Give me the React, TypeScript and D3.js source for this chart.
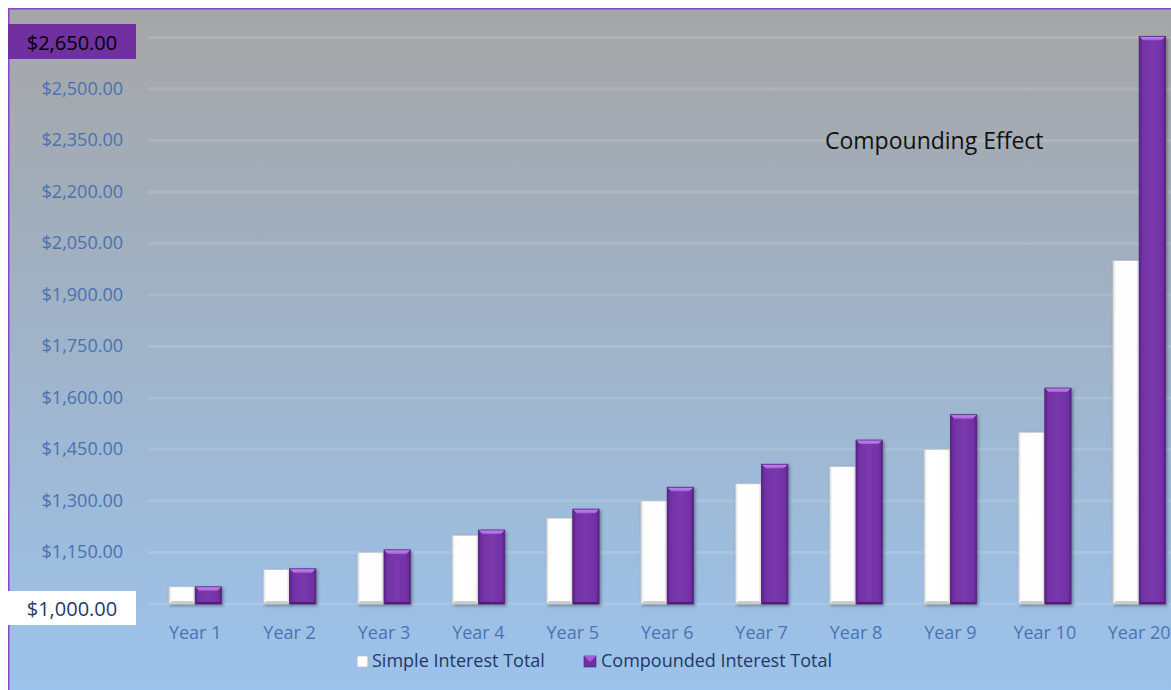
import React from "react";
import * as d3 from "d3";

const categories = ["Year 1", "Year 2", "Year 3", "Year 4", "Year 5", "Year 6", "Year 7", "Year 8", "Year 9", "Year 10", "Year 20"];
const simpleTotals = [1050, 1100, 1150, 1200, 1250, 1300, 1350, 1400, 1450, 1500, 2000];
const compoundTotals = [1050, 1102.5, 1157.63, 1215.51, 1276.28, 1340.1, 1407.1, 1477.46, 1551.33, 1628.89, 2653.3];
const seriesNames = ["Simple Interest Total", "Compounded Interest Total"];
const yTicks = [1000, 1150, 1300, 1450, 1600, 1750, 1900, 2050, 2200, 2350, 2500, 2650];
const chartTitle = "Compounding Effect";

const W = 1163;
const H = 682;
const FONT = "'Open Sans', 'Noto Sans', sans-serif";

export default function App() {
  const plotLeft = 140;
  const step = 94.4;
  const plotRight = plotLeft + step * categories.length;
  const y = d3.scaleLinear().domain([1000, 2650]).range([596, 29.5]);
  const x = d3.scaleBand<string>().domain(categories).range([plotLeft, plotRight]).paddingInner(0.443).paddingOuter(0.2215);
  const xs = d3.scaleBand<string>().domain(seriesNames).range([0, x.bandwidth()]).padding(0);
  const fmt = (v: number) => "$" + d3.format(",.2f")(v);
  const bw = xs.bandwidth();

  const purpleBar = (px: number, v: number, key: string) => {
    const top = y(v);
    const bot = y(1000);
    const h = bot - top;
    const b = Math.min(4, h / 3);
    return (
      <g key={key} filter="url(#shadow)">
        <rect x={px} y={top} width={bw} height={h} fill="url(#purpleBody)" />
        <polygon points={`${px},${top} ${px + bw},${top} ${px + bw - b},${top + b} ${px + b},${top + b}`} fill="url(#purpleTop)" />
        <polygon points={`${px},${bot} ${px + bw},${bot} ${px + bw - 2},${bot - 2} ${px + 2},${bot - 2}`} fill="#4e1c78" />
        <rect x={px} y={top} width={bw} height={h} fill="none" stroke="#52207e" strokeWidth={0.8} />
      </g>
    );
  };
  const whiteBar = (px: number, v: number, key: string) => {
    const top = y(v);
    const bot = y(1000);
    const h = bot - top;
    return (
      <g key={key} filter="url(#shadow)">
        <rect x={px} y={top} width={bw} height={h} fill="url(#whiteBody)" />
        <polygon points={`${px},${bot} ${px + bw},${bot} ${px + bw - 3},${bot - 3} ${px + 3},${bot - 3}`} fill="#cccccc" />
        <rect x={px} y={top} width={bw} height={h} fill="none" stroke="#c4c4c4" strokeWidth={0.6} />
      </g>
    );
  };

  return (
    <div style={{ position: "fixed", left: 8, top: 8, width: W, height: H, overflow: "hidden" }}>
      <svg width={W} height={H} style={{ display: "block", fontFamily: FONT }}>
        <defs>
          <linearGradient id="bg" x1="0" y1="0" x2="0" y2="1">
            <stop offset="0%" stopColor="#a6a6a6" />
            <stop offset="35%" stopColor="#a1afbf" />
            <stop offset="100%" stopColor="#9cc3ec" />
          </linearGradient>
          <linearGradient id="purpleBody" x1="0" y1="0" x2="1" y2="0">
            <stop offset="0%" stopColor="#5a2388" />
            <stop offset="14%" stopColor="#7332a6" />
            <stop offset="50%" stopColor="#7b38ae" />
            <stop offset="86%" stopColor="#7332a6" />
            <stop offset="100%" stopColor="#5a2388" />
          </linearGradient>
          <linearGradient id="purpleTop" x1="0" y1="0" x2="0" y2="1">
            <stop offset="0%" stopColor="#c78bf2" />
            <stop offset="100%" stopColor="#a45fd8" />
          </linearGradient>
          <linearGradient id="whiteBody" x1="0" y1="0" x2="1" y2="0">
            <stop offset="0%" stopColor="#dddddd" />
            <stop offset="12%" stopColor="#ffffff" />
            <stop offset="88%" stopColor="#fdfdfd" />
            <stop offset="100%" stopColor="#d4d4d4" />
          </linearGradient>
          <filter id="shadow" x="-30%" y="-10%" width="160%" height="130%">
            <feDropShadow dx="1.5" dy="1.5" stdDeviation="1.5" floodColor="#000" floodOpacity="0.35" />
          </filter>
        </defs>
        <rect x={0} y={0} width={W} height={H} fill="url(#bg)" />
        <line x1={0.75} y1={0} x2={0.75} y2={H} stroke="#8a44c8" strokeWidth={1.5} />
        <line x1={0} y1={0.75} x2={W} y2={0.75} stroke="#8a44c8" strokeWidth={1.5} />

        {yTicks.map((t) => (
          <line key={"g" + t} x1={plotLeft} x2={W} y1={y(t)} y2={y(t)} stroke="#ffffff" strokeOpacity={0.12} strokeWidth={3} />
        ))}

        {yTicks.map((t, i) => {
          const isTop = i === yTicks.length - 1;
          const isBottom = i === 0;
          if (isTop || isBottom) {
            const by = y(t) - (isTop ? 13.5 : 13);
            const bh = isTop ? 35 : 34;
            return (
              <g key={"t" + t}>
                <rect x={0} y={by} width={128} height={bh} fill={isTop ? "#7030a0" : "#ffffff"} />
                <text x={64} y={by + bh / 2 + 3} textAnchor="middle" dominantBaseline="middle" fontSize={20} fill={isTop ? "#000000" : "#1f3a6e"}>
                  {fmt(t)}
                </text>
              </g>
            );
          }
          return (
            <text key={"t" + t} x={115} y={y(t) + 1} textAnchor="end" dominantBaseline="middle" fontSize={18} fill="#4872b0">
              {fmt(t)}
            </text>
          );
        })}

        {categories.map((c, i) => {
          const gx = x(c) as number;
          return (
            <g key={c}>
              {whiteBar(gx + (xs(seriesNames[0]) as number), simpleTotals[i], "w" + i)}
              {purpleBar(gx + (xs(seriesNames[1]) as number), compoundTotals[i], "p" + i)}
            </g>
          );
        })}

        {categories.map((c) => (
          <text key={"l" + c} x={(x(c) as number) + x.bandwidth() / 2} y={626} textAnchor="middle" dominantBaseline="middle" fontSize={18} fill="#4a74b4">
            {c}
          </text>
        ))}

        <text x={817} y={135} dominantBaseline="middle" fontSize={23} fill="#111111">
          {chartTitle}
        </text>

        <g>
          <rect x={349} y={648} width={11} height={11} fill="url(#whiteBody)" stroke="#b8b8b8" strokeWidth={0.6} />
          <text x={364} y={654} dominantBaseline="middle" fontSize={18} fill="#1f3864">{seriesNames[0]}</text>
          <rect x={576} y={648} width={12} height={11} fill="#7030a0" stroke="#4e1c78" strokeWidth={0.6} />
          <polygon points="576,648 588,648 582,654" fill="#a45fd8" />
          <text x={593} y={654} dominantBaseline="middle" fontSize={18} fill="#1f3864">{seriesNames[1]}</text>
        </g>
      </svg>
    </div>
  );
}
